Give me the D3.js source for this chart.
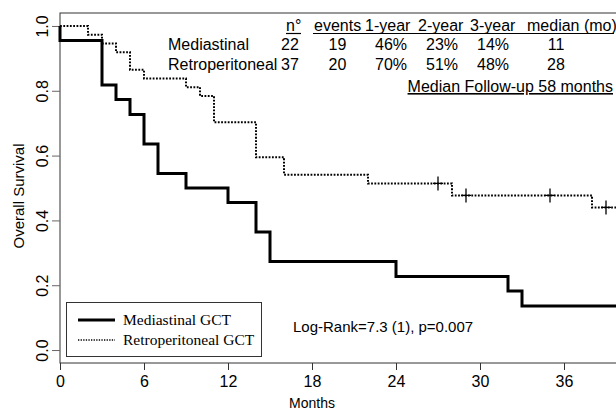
<!DOCTYPE html>
<meta charset="utf-8">
<style>
  body { margin: 0; background: #fff; }
  text { font-family: "Liberation Sans", Arial, sans-serif; fill: #000; }
  .serif { font-family: "Liberation Serif", "Times New Roman", serif; }
</style>
<script src="https://d3js.org/d3.v7.min.js"></script>
<body>
<script>
// Kaplan-Meier steps (months, survival)
var medTimes = [0, 3, 4, 5, 6, 7, 9, 12, 14, 15, 24, 32, 33];
var medSurv = [0.955, 0.818, 0.773, 0.727, 0.636, 0.545, 0.5, 0.455, 0.364, 0.273, 0.227, 0.182, 0.136];
var retroTimes = [2, 3, 4, 5, 6, 9, 10, 11, 14, 16, 22, 28, 38];
var retroSurv = [0.973, 0.946, 0.919, 0.865, 0.838, 0.811, 0.784, 0.703, 0.595, 0.541, 0.514, 0.477, 0.440];
var retroCensor = [27, 29, 35, 39];

var xTicks = [0, 6, 12, 18, 24, 30, 36];
var yTicks = [0, 0.2, 0.4, 0.6, 0.8, 1.0];

var tableHeader = ["n°", "events", "1-year", "2-year", "3-year", "median (mo)"];
var tableRows = [
  ["Mediastinal", "22", "19", "46%", "23%", "14%", "11"],
  ["Retroperitoneal", "37", "20", "70%", "51%", "48%", "28"]
];
var legendLabels = ["Mediastinal GCT", "Retroperitoneal GCT"];

var width = 616, height = 411;

var svg = d3.select("body").append("svg")
    .attr("width", width)
    .attr("height", height);

var x = d3.scaleLinear().domain([0, 42]).range([60, 648]);
var y = d3.scaleLinear().domain([-0.04, 1.04]).range([363, 13]);

// box
svg.append("rect")
    .attr("x", x(0)).attr("y", y(1.04))
    .attr("width", x(42) - x(0)).attr("height", y(-0.04) - y(1.04))
    .attr("fill", "none").attr("stroke", "#333").attr("stroke-width", 1);

// x axis
var xAxis = svg.append("g")
    .attr("transform", "translate(0," + y(-0.04) + ")")
    .call(d3.axisBottom(x).tickValues(xTicks).tickSize(7).tickPadding(6).tickFormat(d3.format("d")));
xAxis.select(".domain").remove();
xAxis.selectAll("line").attr("stroke", "#333");
xAxis.selectAll("text").style("font-size", "16px").style("font-family", "Liberation Sans");

// y axis
var yAxis = svg.append("g")
    .attr("transform", "translate(" + x(0) + ",0)")
    .call(d3.axisLeft(y).tickValues(yTicks).tickSize(8).tickFormat(d3.format(".1f")));
yAxis.select(".domain").remove();
yAxis.selectAll("line").attr("stroke", "#666");
yAxis.selectAll("text")
    .style("font-size", "16px").style("font-family", "Liberation Sans")
    .attr("text-anchor", "middle")
    .attr("x", 0).attr("dy", 0)
    .attr("transform", "translate(-12,0) rotate(-90)");

svg.append("text")
    .attr("transform", "translate(24,196) rotate(-90)")
    .attr("text-anchor", "middle")
    .style("font-size", "15px")
    .text("Overall Survival");

svg.append("text")
    .attr("x", 312).attr("y", 408)
    .attr("text-anchor", "middle")
    .style("font-size", "14px")
    .text("Months");

// curves
var line = d3.line()
    .x(function(d) { return x(d[0]); })
    .y(function(d) { return y(d[1]); })
    .curve(d3.curveStepAfter);

function steps(times, surv) {
  var pts = [[0, 1]];
  times.forEach(function(t, i) { pts.push([t, surv[i]]); });
  pts.push([42, surv[surv.length - 1]]);
  return pts;
}

function survAt(times, surv, t) {
  var s = 1;
  times.forEach(function(tt, i) { if (tt <= t) s = surv[i]; });
  return s;
}

var plot = svg.append("g");

plot.append("path")
    .datum(steps(retroTimes, retroSurv))
    .attr("d", line)
    .attr("fill", "none")
    .attr("stroke", "#000")
    .attr("stroke-width", 2)
    .attr("stroke-dasharray", "1.8,1.5");

plot.selectAll(".censor")
    .data(retroCensor)
    .enter().append("path")
    .attr("class", "censor")
    .attr("d", function(t) {
      var cx = x(t), cy = y(survAt(retroTimes, retroSurv, t));
      return "M" + cx + "," + (cy - 7) + "V" + (cy + 7) + "M" + (cx - 5) + "," + cy + "H" + (cx + 5);
    })
    .attr("stroke", "#000")
    .attr("stroke-width", 1.3)
    .attr("fill", "none");

plot.append("path")
    .datum(steps(medTimes, medSurv))
    .attr("d", line)
    .attr("fill", "none")
    .attr("stroke", "#000")
    .attr("stroke-width", 3);

// table
var headX = [286, 314, 365, 418, 470, 527];
var colX = [168, 290, 337.5, 391, 442, 493, 556];
var rowY = [50, 70];

svg.selectAll(".head")
    .data(tableHeader)
    .enter().append("text")
    .attr("class", "head")
    .attr("x", function(d, i) { return headX[i]; })
    .attr("y", 31)
    .style("font-size", "16px")
    .text(function(d) { return d; });

svg.append("line").attr("x1", 286).attr("x2", 301).attr("y1", 33.5).attr("y2", 33.5)
    .attr("stroke", "#000").attr("stroke-width", 1.2);
svg.append("line").attr("x1", 313).attr("x2", 614).attr("y1", 33.5).attr("y2", 33.5)
    .attr("stroke", "#000").attr("stroke-width", 1.2);

tableRows.forEach(function(row, r) {
  svg.selectAll(".row" + r)
      .data(row)
      .enter().append("text")
      .attr("class", "row" + r)
      .attr("x", function(d, i) { return colX[i]; })
      .attr("y", rowY[r])
      .attr("text-anchor", function(d, i) { return i === 0 ? "start" : "middle"; })
      .style("font-size", "16px")
      .text(function(d) { return d; });
});

svg.append("text")
    .attr("x", 613).attr("y", 92)
    .attr("text-anchor", "end")
    .style("font-size", "16px")
    .style("text-decoration", "underline")
    .text("Median Follow-up 58 months");

svg.append("text")
    .attr("x", 293).attr("y", 332)
    .style("font-size", "15px")
    .text("Log-Rank=7.3 (1), p=0.007");

// legend
var legend = svg.append("g");
legend.append("rect")
    .attr("x", 66.5).attr("y", 302.5).attr("width", 195).attr("height", 54)
    .attr("fill", "#fff").attr("stroke", "#333").attr("stroke-width", 1);

legendLabels.forEach(function(lab, i) {
  var ly = 320 + i * 20;
  legend.append("line")
      .attr("x1", 78).attr("x2", 115).attr("y1", ly).attr("y2", ly)
      .attr("stroke", "#000")
      .attr("stroke-width", i === 0 ? 3 : 1.3)
      .attr("stroke-dasharray", i === 0 ? null : "1.3,1.3");
  legend.append("text")
      .attr("class", "serif")
      .attr("x", 123).attr("y", ly + 5)
      .style("font-size", "15.5px")
      .text(lab);
});
</script>
</body>
